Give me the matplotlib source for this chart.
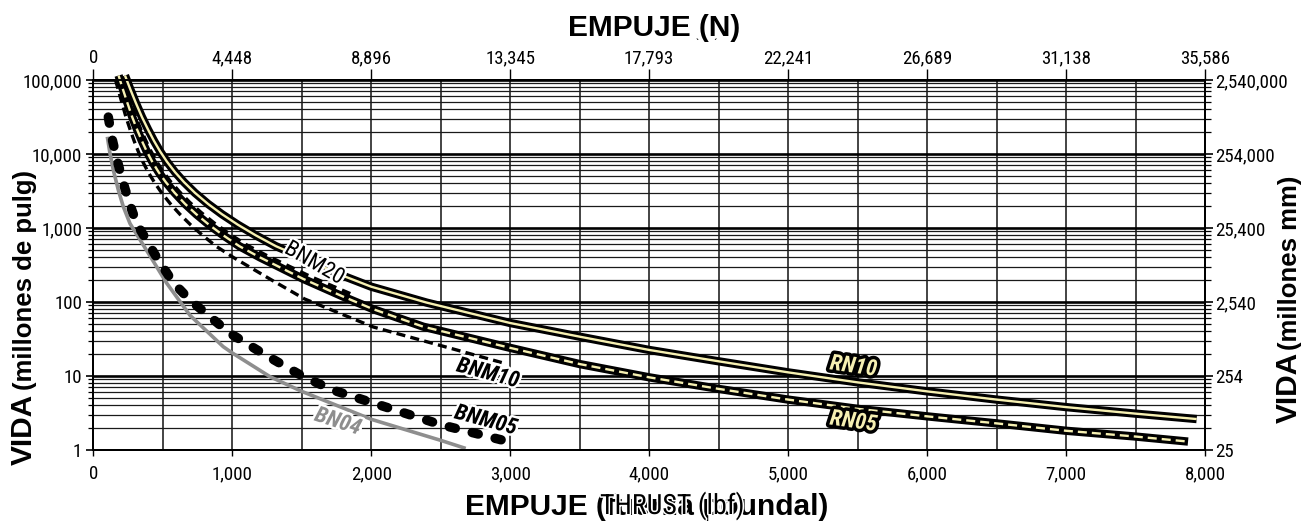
import matplotlib
matplotlib.use("Agg")
import matplotlib.pyplot as plt
from matplotlib import font_manager as fm
from matplotlib.textpath import TextPath
import matplotlib.patheffects as pe
from matplotlib.ticker import (FixedLocator, FixedFormatter, NullFormatter,
                               NullLocator, MultipleLocator)

plt.rcParams['lines.scale_dashes'] = False

# ---------------- data (thrust lbf, life in millions of inches) ----------------
x_ticks_lbf = [0, 1000, 2000, 3000, 4000, 5000, 6000, 7000, 8000]
x_ticks_lbf_labels = ["0", "1,000", "2,000", "3,000", "4,000", "5,000", "6,000", "7,000", "8,000"]
x_ticks_N_labels = ["0", "4,448", "8,896", "13,345", "17,793", "22,241", "26,689", "31,138", "35,586"]
y_ticks_in = [1, 10, 100, 1000, 10000, 100000]
y_ticks_in_labels = ["1", "10", "100", "1,000", "10,000", "100,000"]
y_ticks_mm = [25.4, 254, 2540, 25400, 254000, 2540000]
y_ticks_mm_labels = ["25", "254", "2,540", "25,400", "254,000", "2,540,000"]

rn10_lbf = [228, 264, 307, 350, 394, 437, 480, 530, 588, 653, 732, 825, 926, 1041, 1170,
            1314, 1500, 1800, 2000, 2400, 3000, 3500, 4000, 4500, 5000, 5500, 6000, 6500,
            7000, 7500, 7940]
rn10_life = [115000, 76800, 48600, 31600, 21400, 15000, 10900, 7870, 5690, 4160, 2980,
             2120, 1535, 1105, 794, 568, 400, 225, 161, 98, 52, 34, 22.5, 15.8, 11.2, 8.2,
             6.2, 4.8, 3.8, 3.1, 2.62]

rn05_lbf = [182, 211, 246, 280, 315, 350, 384, 424, 470, 522, 586, 660, 741, 833, 936, 1051,
            1200, 1319, 1511, 1799, 2014, 2374, 3000, 3500, 4000, 4500, 5000, 5500, 6000,
            6500, 7000, 7500, 7878]
rn05_life = [115000, 76800, 48600, 31600, 21400, 15000, 10900, 7870, 5690, 4160, 2980, 2120,
             1535, 1105, 794, 568, 400, 310, 205, 118, 80, 46.4, 24.0, 14.5, 9.6, 6.7, 4.8,
             3.6, 2.85, 2.29, 1.82, 1.52, 1.30]

bnm20_lbf = [188, 218, 255, 290, 326, 362, 397, 439, 486, 540, 607, 683, 767, 862, 969,
             1088, 1242, 1365, 1564, 1862]
bnm20_life = [100000, 76800, 48600, 31600, 21400, 15000, 10900, 7870, 5690, 4160, 2980,
              2120, 1535, 1105, 794, 568, 400, 310, 205, 118]

bnm10_lbf = [160, 177, 207, 235, 265, 294, 323, 356, 395, 439, 492, 555, 623, 700, 787, 883,
             1008, 1108, 1270, 1520, 2014, 2614, 2950]
bnm10_life = [100000, 76800, 48600, 31600, 21400, 15000, 10900, 7870, 5690, 4160, 2980, 2120,
              1535, 1105, 794, 568, 400, 310, 205, 110, 46, 22.5, 15]

bnm05_lbf = [108, 132, 168, 192, 228, 269, 312, 456, 576, 696, 983, 1223, 1511, 1730,
             2000, 2500, 3000]
bnm05_life = [31600, 17100, 8800, 5900, 3400, 1940, 1150, 400, 182, 106, 37.8, 20, 9.8, 6.4,
              4.4, 2.2, 1.28]

bn04_lbf = [101, 120, 144, 180, 216, 264, 408, 528, 696, 935, 1000, 1271, 1500, 2000, 2500, 2680]
bn04_life = [17100, 10200, 6080, 3260, 1940, 1150, 420, 180, 66, 24.9, 20.5, 9.8, 6.2, 2.6,
             1.35, 1.05]

# ---------------- fonts ----------------
names = {f.name for f in fm.fontManager.ttflist}
if 'Liberation Sans Narrow' in names:
    NARROW = dict(family='Liberation Sans Narrow')
elif 'Roboto Condensed' in names:
    NARROW = dict(family='Roboto Condensed')
elif any(f.name == 'DejaVu Sans' and 'ondensed' in str(f.stretch) for f in fm.fontManager.ttflist):
    NARROW = dict(family='DejaVu Sans', stretch='condensed')
else:
    NARROW = dict(family='Liberation Sans')
BOLD = dict(family='Liberation Sans', weight='bold')

# scale the narrow font so that "100,000" is ~57 px wide, as in the original
_tp = TextPath((0, 0), "100,000", size=13.5, prop=fm.FontProperties(**NARROW))
_w_px = _tp.get_extents().width * 100 / 72
SC = max(0.72, min(1.1, 57.0 / _w_px))
TICK_FS = 13.5 * SC


def nfp(size, **kw):
    d = dict(NARROW)
    d.update(kw)
    return fm.FontProperties(size=size, **d)


W, H = 1316, 523
fig = plt.figure(figsize=(W / 100, H / 100), dpi=100)
L, R, T, B = 93.3, 1205, 80, 450
ax = fig.add_axes([L / W, (H - B) / H, (R - L) / W, (B - T) / H])
ax.set_xlim(0, 8000)
ax.set_yscale('log')
ax.set_ylim(1, 1e5)

# grid
ax.xaxis.set_major_locator(FixedLocator(x_ticks_lbf))
ax.xaxis.set_major_formatter(FixedFormatter(x_ticks_lbf_labels))
ax.xaxis.set_minor_locator(MultipleLocator(500))
ax.yaxis.set_major_locator(FixedLocator(y_ticks_in))
ax.yaxis.set_major_formatter(FixedFormatter(y_ticks_in_labels))
minor_in = [m * 10 ** k for k in range(0, 5) for m in range(2, 10)]
ax.yaxis.set_minor_locator(FixedLocator(minor_in))
ax.yaxis.set_minor_formatter(NullFormatter())
ax.grid(True, which='both', axis='x', color='#111111', lw=1.1, zorder=0)
ax.grid(True, which='major', axis='y', color='#000000', lw=1.9, zorder=0)
ax.grid(True, which='minor', axis='y', color='#1a1a1a', lw=0.9, zorder=0)
ax.set_axisbelow(True)

ax.tick_params(axis='x', which='major', direction='out', length=4.3, width=1, pad=6.5)
ax.tick_params(axis='x', which='minor', length=0)
ax.tick_params(axis='y', which='major', direction='out', length=5, width=1.2, pad=3)
ax.tick_params(axis='y', which='minor', direction='out', length=3.6, width=0.9)
for lab in ax.get_xticklabels() + ax.get_yticklabels():
    lab.set_fontproperties(nfp(TICK_FS))
for s in ax.spines.values():
    s.set_linewidth(1.4)

# top axis (N)
sec = ax.secondary_xaxis('top')
sec.xaxis.set_major_locator(FixedLocator(x_ticks_lbf))
sec.xaxis.set_major_formatter(FixedFormatter(x_ticks_N_labels))
sec.xaxis.set_minor_locator(NullLocator())
sec.tick_params(axis='x', direction='out', length=8, width=1, pad=1)
for lab in sec.get_xticklabels():
    lab.set_fontproperties(nfp(TICK_FS))
sec.spines['top'].set_linewidth(1.4)

# right axis (mm)
ax2 = ax.twinx()
ax2.set_yscale('log')
ax2.set_ylim(25.4, 2.54e6)
ax2.yaxis.set_major_locator(FixedLocator(y_ticks_mm))
ax2.yaxis.set_major_formatter(FixedFormatter(y_ticks_mm_labels))
minor_mm = [25.4 * v for v in minor_in]
ax2.yaxis.set_minor_locator(FixedLocator(minor_mm))
ax2.yaxis.set_minor_formatter(NullFormatter())
ax2.tick_params(axis='y', which='major', direction='out', length=5.8, width=1.2, pad=1.5)
ax2.tick_params(axis='y', which='minor', direction='out', length=4.3, width=0.9)
for lab in ax2.get_yticklabels():
    lab.set_fontproperties(nfp(TICK_FS))
for s in ax2.spines.values():
    s.set_linewidth(1.4)

# ---------------- curves ----------------
CREAM = '#f6f0b2'
ax.plot(bn04_lbf, bn04_life, color='#8e8e8e', lw=2.6, solid_capstyle='butt',
        solid_joinstyle='round', zorder=3)
ax.plot(bnm05_lbf, bnm05_life, color='black', lw=6.8, dashes=(4.5, 12.5),
        dash_capstyle='round', dash_joinstyle='round', zorder=3)
ax.plot(bnm10_lbf, bnm10_life, color='black', lw=2.4, dashes=(6.5, 3.8),
        dash_capstyle='butt', dash_joinstyle='round', zorder=3)
ax.plot(bnm20_lbf, bnm20_life, color='black', lw=5.5, dashes=(6.5, 4.5),
        dash_capstyle='butt', dash_joinstyle='round', zorder=3.5)
# RN05: black band with cream dashed centre
ax.plot(rn05_lbf, rn05_life, color='black', lw=6.0, solid_capstyle='butt',
        solid_joinstyle='round', zorder=4, clip_on=False)
ax.plot(rn05_lbf, rn05_life, color=CREAM, lw=1.7, dashes=(6.5, 3.6),
        dash_capstyle='butt', dash_joinstyle='round', zorder=4.1, clip_on=False)
# RN10: black band with cream solid centre
ax.plot(rn10_lbf, rn10_life, color='black', lw=6.0, solid_capstyle='butt',
        solid_joinstyle='round', zorder=4, clip_on=False)
ax.plot(rn10_lbf, rn10_life, color=CREAM, lw=1.7, solid_capstyle='butt',
        solid_joinstyle='round', zorder=4.1, clip_on=False)

# ---------------- curve labels ----------------
LFS = 16 * SC
white_halo = [pe.withStroke(linewidth=3.5, foreground='white')]
ax.text(1590, 330, 'BNM20', rotation=-30, ha='center', va='center', fontproperties=nfp(LFS),
        color='black', path_effects=white_halo, zorder=10)
ax.text(2840, 10.8, 'BNM10', rotation=-15, ha='center', va='center',
        fontproperties=nfp(LFS, weight='bold', style='italic'),
        color='black', path_effects=white_halo, zorder=10)
ax.text(2825, 2.5, 'BNM05', rotation=-15, ha='center', va='center',
        fontproperties=nfp(LFS, weight='bold', style='italic'),
        color='black', path_effects=white_halo, zorder=10)
ax.text(1760, 2.4, 'BN04', rotation=-18, ha='center', va='center',
        fontproperties=nfp(LFS, weight='bold', style='italic'),
        color='#8e8e8e', path_effects=white_halo, zorder=10)
black_halo = [pe.withStroke(linewidth=5, foreground='black')]
ax.text(5470, 13.4, 'RN10', rotation=-8, ha='center', va='center',
        fontproperties=nfp(LFS, weight='bold', style='italic'),
        color=CREAM, path_effects=black_halo, zorder=10)
ax.text(5470, 2.41, 'RN05', rotation=-8, ha='center', va='center',
        fontproperties=nfp(LFS, weight='bold', style='italic'),
        color=CREAM, path_effects=black_halo, zorder=10)


# ---------------- axis titles ----------------
def fx(px):
    return px / W


def fy(py):
    return (H - py) / H


fig.text(fx(568), fy(36), 'EMPUJE (N)', ha='left', va='baseline', fontsize=21.5, **BOLD)
fig.text(fx(465), fy(515), 'EMPUJE (fuerza poundal)', ha='left', va='baseline',
         fontsize=21.5, **BOLD)
fig.text(fx(600), fy(514), 'THRUST (lbf)', ha='left', va='baseline',
         fontproperties=nfp(20 * SC), color='black',
         path_effects=[pe.withStroke(linewidth=2.2, foreground='white')])

fig.text(fx(32), fy(465), 'VIDA', rotation=90, rotation_mode='anchor', ha='left',
         va='baseline', fontsize=21.5, **BOLD)
fig.text(fx(32), fy(390), '(millones de pulg)', rotation=90, rotation_mode='anchor',
         ha='left', va='baseline', fontsize=18.5, **BOLD)
fig.text(fx(1297), fy(423), 'VIDA', rotation=90, rotation_mode='anchor', ha='left',
         va='baseline', fontsize=21.5, **BOLD)
fig.text(fx(1297), fy(350), '(millones mm)', rotation=90, rotation_mode='anchor',
         ha='left', va='baseline', fontsize=18.5, **BOLD)

# small stray marks present in the original artwork
fig.text(fx(697), fy(47), '`', ha='center', va='baseline', fontproperties=nfp(8))
fig.text(fx(715), fy(47), '´', ha='center', va='baseline', fontproperties=nfp(8))

fig.savefig('out.png', dpi=100)
